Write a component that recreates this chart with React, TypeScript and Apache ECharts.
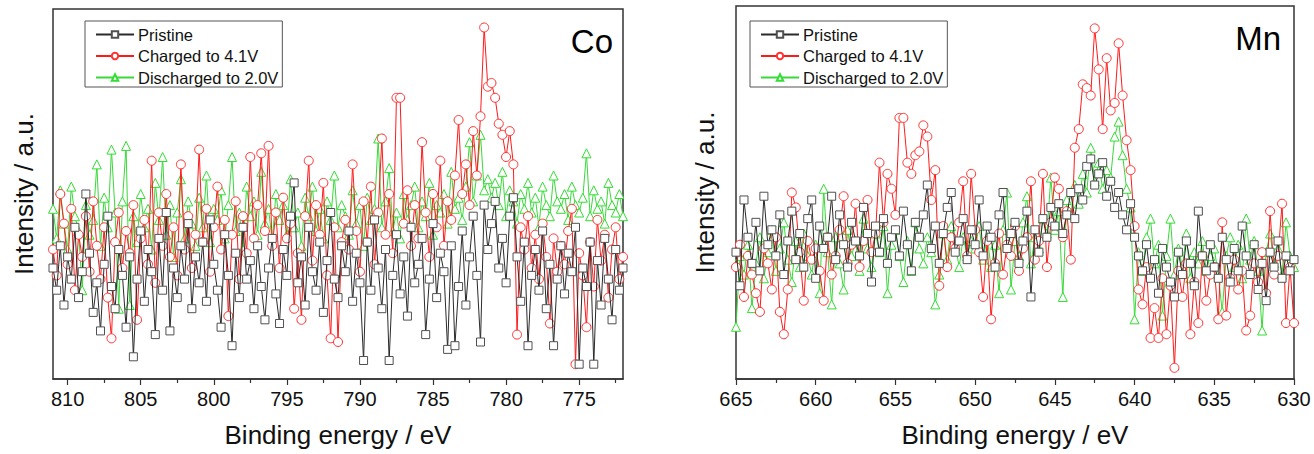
import React, { useEffect, useRef } from 'react';
import * as echarts from 'echarts';

const NAMES = ['Pristine', 'Charged to 4.1V', 'Discharged to 2.0V'];
const CO_START = 811;
const MN_START = 665;
const STEP = 0.25;
const CO_MAJOR = [775, 780, 785, 790, 795, 800, 805, 810];
const CO_MINOR = [772.5, 777.5, 782.5, 787.5, 792.5, 797.5, 802.5, 807.5];
const MN_MAJOR = [630, 635, 640, 645, 650, 655, 660, 665];
const MN_MINOR = [632.5, 637.5, 642.5, 647.5, 652.5, 657.5, 662.5];

// Co 2p region, 811 -> 772 eV, 0.25 eV step
const coPristine = [
  30,24,36,20,33,27,41,22,29,50,34,18,26,13,31,44,25,19,35,28,
  14,33,6,27,40,21,35,29,12,38,24,45,13,30,22,36,27,42,19,33,
  26,37,21,43,31,24,14,39,28,9,34,22,41,27,32,19,36,25,16,30,
  38,23,15,35,28,44,53,26,33,20,41,29,24,37,18,32,45,27,22,36,
  29,40,21,34,26,5,37,24,43,30,19,35,5,28,39,23,33,17,41,26,
  31,38,12,27,42,22,34,29,8,36,9,25,40,20,33,44,28,10,47,35,
  42,48,30,38,26,44,49,33,21,37,9,28,35,24,40,19,31,9,27,36,
  23,34,29,41,4,30,25,37,4,32,20,38,27,16,35,24,30,
];
const coCharged = [
  35,28,50,42,31,46,24,39,33,44,29,48,36,27,41,22,11,37,45,30,
  40,34,47,16,38,43,31,59,26,45,36,50,33,41,28,58,35,44,30,39,
  62,37,46,29,41,52,35,43,17,39,48,27,44,34,60,38,47,61,40,63,
  36,45,30,49,38,42,19,34,16,44,59,32,47,39,53,28,11,41,10,37,
  43,35,58,40,29,48,37,52,31,45,65,39,50,34,76,76,42,51,36,47,
  38,64,45,33,50,41,59,36,48,43,55,70,50,58,47,67,55,71,95,79,
  80,76,69,66,60,67,58,12,41,35,44,30,39,27,42,33,15,38,29,36,
  31,40,46,4,34,28,14,37,25,43,32,39,22,35,41,27,33,
];
const coDischarged = [
  46,38,51,42,35,52,44,40,24,47,39,43,58,36,49,41,62,45,19,48,
  63,20,44,37,50,41,46,35,53,43,60,39,47,33,45,54,38,48,42,36,
  49,41,55,37,46,43,51,38,47,60,40,45,35,52,44,48,39,56,42,46,
  37,50,43,47,39,54,41,45,36,49,44,52,40,46,38,48,43,55,41,47,
  44,39,51,42,47,36,49,43,46,65,41,48,57,40,45,38,50,43,47,52,
  41,48,44,53,39,47,45,50,42,56,46,49,43,52,64,48,55,66,51,54,
  49,53,47,56,44,51,48,42,50,46,53,45,49,41,52,47,44,55,48,46,
  50,43,52,47,45,49,61,44,51,46,48,42,53,47,45,50,44,
];

// Mn 2p region, 665 -> 630 eV, 0.25 eV step
const mnPristine = [
  34,25,48,38,31,42,29,49,36,40,33,44,28,37,45,32,39,30,43,48,
  27,41,35,38,49,32,44,36,30,42,37,33,46,39,26,41,34,43,31,38,
  40,33,45,36,29,42,38,44,52,35,41,31,39,46,50,34,37,43,32,40,
  36,48,33,41,38,30,44,50,35,39,42,31,37,45,22,40,34,43,38,46,
  41,47,39,44,50,43,51,48,57,59,52,55,58,49,53,46,50,44,40,47,
  38,33,29,36,27,32,23,35,30,26,22,34,28,37,31,25,45,33,29,36,
  30,27,38,32,26,35,29,41,33,28,36,24,31,21,34,30,37,27,33,29,
  32,
];
const mnCharged = [
  30,36,22,33,28,23,18,35,31,24,38,18,12,24,50,46,34,21,37,32,
  35,29,21,38,28,33,40,49,31,36,47,30,37,48,34,39,58,42,55,51,
  44,70,70,58,55,60,61,68,65,48,56,25,41,30,38,35,42,53,33,55,
  40,34,22,37,16,31,39,28,36,33,41,29,35,38,53,32,37,55,30,42,
  54,51,38,45,32,62,67,79,78,76,94,83,67,86,72,74,90,76,64,56,
  41,24,20,30,11,19,11,27,12,25,3,29,22,31,12,26,15,33,21,28,
  30,16,42,17,27,32,24,29,13,17,31,26,34,23,45,28,33,47,15,30,
  15,
];
const mnDischarged = [
  14,33,28,36,19,31,38,27,34,40,29,35,42,32,26,37,30,39,33,28,
  36,23,51,34,20,38,31,24,40,33,37,29,43,35,30,39,34,41,23,36,
  40,33,26,37,29,42,35,31,38,34,20,28,39,32,41,36,30,38,33,37,
  35,41,32,38,30,36,23,40,50,24,37,33,42,49,31,38,35,43,39,54,
  40,45,22,48,44,52,47,55,50,62,53,58,51,56,54,65,69,60,51,46,
  16,34,29,38,43,31,36,17,33,43,28,35,30,39,27,34,31,37,29,33,
  35,28,18,33,38,30,36,27,43,32,37,29,13,34,39,31,35,28,42,33,
  30,
];

const FONT = '"Liberation Sans", Arial, sans-serif';

const STYLES = [
  { symbol: 'rect', size: 8, line: '#2a2a2a', border: '#505050', z: 4 },
  { symbol: 'circle', size: 9, line: '#ff1a1a', border: '#ff3030', z: 3 },
  { symbol: 'triangle', size: 9, line: '#3ad83a', border: '#33dd33', z: 2 },
];

function toPairs(start: number, vals: number[]) {
  return vals.map((v, i) => [start - i * STEP, v]);
}

function makeSeries(idx: number, axis: number, start: number, vals: number[]) {
  const s = STYLES[idx];
  return {
    name: NAMES[idx],
    type: 'line',
    xAxisIndex: axis,
    yAxisIndex: axis === 0 ? 0 : 1,
    data: toPairs(start, vals),
    symbol: s.symbol,
    symbolSize: s.size,
    showSymbol: true,
    showAllSymbol: true,
    z: s.z,
    lineStyle: { color: s.line, width: 1 },
    itemStyle: { color: '#ffffff', borderColor: s.border, borderWidth: 1 },
    emphasis: { disabled: true },
  };
}

function xAxes(gridIndex: number, min: number, max: number, major: number[], minor: number[]) {
  return [
    {
      type: 'value', gridIndex, min, max, inverse: true, position: 'bottom',
      name: 'Binding energy / eV', nameLocation: 'middle', nameGap: 43,
      nameTextStyle: { fontSize: 26, fontFamily: FONT, color: '#111' },
      axisLine: { show: true, lineStyle: { color: '#333', width: 1.5 } },
      axisTick: { show: true, inside: false, length: 6, customValues: major, lineStyle: { color: '#333', width: 1.2 } },
      axisLabel: { show: true, margin: 10, customValues: major, fontSize: 20, fontFamily: FONT, color: '#111' },
      splitLine: { show: false },
    },
    {
      type: 'value', gridIndex, min, max, inverse: true, position: 'bottom',
      axisLine: { show: false },
      axisTick: { show: true, inside: false, length: 4, customValues: minor, lineStyle: { color: '#333', width: 1.2 } },
      axisLabel: { show: false },
      splitLine: { show: false },
    },
  ];
}

function yAxis(gridIndex: number, gap: number) {
  return {
    type: 'value', gridIndex, min: 0, max: 100,
    name: 'Intensity / a.u.', nameLocation: 'middle', nameGap: gap,
    nameTextStyle: { fontSize: 26, fontFamily: FONT, color: '#111' },
    axisLine: { show: false }, axisTick: { show: false }, axisLabel: { show: false },
    splitLine: { show: false },
  };
}

function legend(left: number) {
  return {
    left, top: 21, orient: 'vertical',
    data: NAMES,
    itemWidth: 38, itemHeight: 8, itemGap: 4.5,
    padding: [5, 4, 1, 10],
    borderColor: '#555', borderWidth: 1,
    selectedMode: false,
    textStyle: { fontSize: 16.5, lineHeight: 16, fontFamily: FONT, color: '#111', padding: [0, 0, 0, -1] },
  };
}

export default function App() {
  const ref = useRef<HTMLDivElement>(null);
  useEffect(() => {
    if (!ref.current) return;
    const chart = echarts.init(ref.current, undefined, { renderer: 'svg' });
    chart.setOption({
      animation: false,
      backgroundColor: '#ffffff',
      grid: [
        { left: 53, top: 9, width: 570, height: 370, show: true, borderColor: '#333', borderWidth: 1.5, backgroundColor: 'transparent' },
        { left: 736, top: 6, width: 558, height: 373, show: true, borderColor: '#333', borderWidth: 1.5, backgroundColor: 'transparent' },
      ],
      xAxis: [
        ...xAxes(0, 772, 811, CO_MAJOR, CO_MINOR),
        ...xAxes(1, 630, 665, MN_MAJOR, MN_MINOR),
      ],
      yAxis: [yAxis(0, 16), yAxis(1, 18)],
      legend: [legend(85), legend(750)],
      graphic: [
        { type: 'text', x: 613, y: 41, style: { text: 'Co', fill: '#000', font: `33px ${FONT}`, align: 'right', verticalAlign: 'middle' } },
        { type: 'text', x: 1281, y: 38, style: { text: 'Mn', fill: '#000', font: `33px ${FONT}`, align: 'right', verticalAlign: 'middle' } },
      ],
      series: [
        makeSeries(2, 0, CO_START, coDischarged),
        makeSeries(1, 0, CO_START, coCharged),
        makeSeries(0, 0, CO_START, coPristine),
        makeSeries(2, 2, MN_START, mnDischarged),
        makeSeries(1, 2, MN_START, mnCharged),
        makeSeries(0, 2, MN_START, mnPristine),
      ],
    });
    return () => chart.dispose();
  }, []);
  return <div ref={ref} style={{ position: 'absolute', left: 0, top: 0, width: 1314, height: 454 }} />;
}
